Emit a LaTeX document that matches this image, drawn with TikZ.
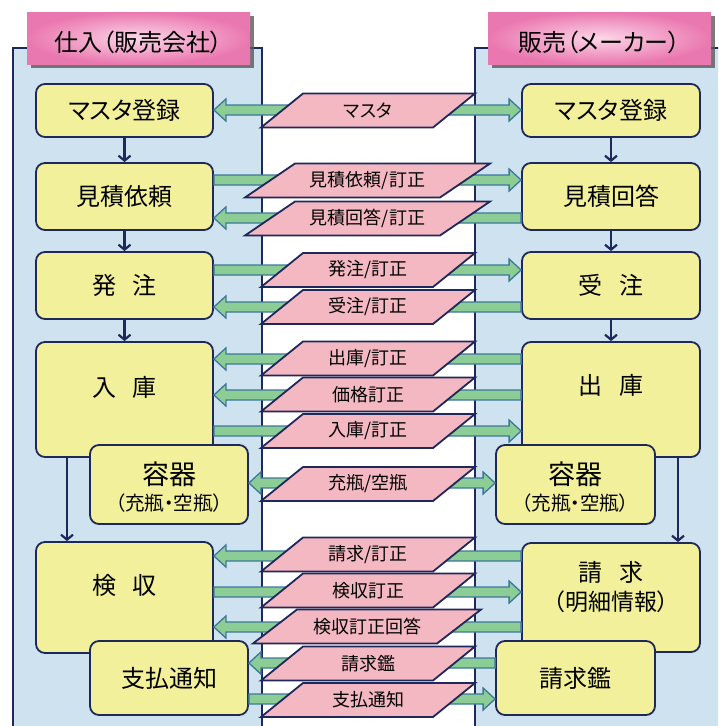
\documentclass[tikz,border=0pt]{standalone}
\usepackage{fontspec}
\setmainfont{Noto Sans CJK JP}[RawFeature={+palt}]
\usetikzlibrary{arrows.meta,calc,shadows}
\definecolor{navy}{RGB}{30,40,90}
\definecolor{panelblue}{RGB}{207,226,240}
\definecolor{nodeyel}{RGB}{243,240,155}
\definecolor{parapink}{RGB}{244,184,194}
\definecolor{hdrdark}{RGB}{234,120,176}
\definecolor{hdrlight}{RGB}{252,214,232}
\definecolor{grfill}{RGB}{140,205,150}
\definecolor{grline}{RGB}{60,120,155}
\newcommand\wgap{\hspace{17pt}}
\newcommand\garR[3]{%
  \filldraw[gar] let \p1=(#1.east |- 0,#3), \p2=(#2.west |- 0,#3) in
   (\x1,\y1+5pt) -- (\x2-12pt,\y1+5pt) -- (\x2-12pt,\y1+11pt) -- (\x2,\y1)
   -- (\x2-12pt,\y1-11pt) -- (\x2-12pt,\y1-5pt) -- (\x1,\y1-5pt) -- cycle;}
\newcommand\garL[3]{%
  \filldraw[gar] let \p1=(#1.west |- 0,#3), \p2=(#2.east |- 0,#3) in
   (\x1,\y1+5pt) -- (\x2+12pt,\y1+5pt) -- (\x2+12pt,\y1+11pt) -- (\x2,\y1)
   -- (\x2+12pt,\y1-11pt) -- (\x2+12pt,\y1-5pt) -- (\x1,\y1-5pt) -- cycle;}
\newcommand\garD[3]{%
  \filldraw[gar] let \p1=(#1.east |- 0,#3), \p2=(#2.west |- 0,#3) in
   (\x1,\y1) -- (\x1+12pt,\y1+11pt) -- (\x1+12pt,\y1+5pt) -- (\x2-12pt,\y1+5pt)
   -- (\x2-12pt,\y1+11pt) -- (\x2,\y1) -- (\x2-12pt,\y1-11pt) -- (\x2-12pt,\y1-5pt)
   -- (\x1+12pt,\y1-5pt) -- (\x1+12pt,\y1-11pt) -- cycle;}
\newcommand\para[6]{%
  \filldraw[pg] (#2-#4-#5,#3+17) -- (#2-#4+#5,#3-17) -- (#2+#4+#5,#3-17) -- (#2+#4-#5,#3+17) -- cycle;
  \node[ptext] (#1) at (#2,#3) {#6};}
\begin{document}
\begin{tikzpicture}[x=1pt,y=-1pt,
  box/.style={draw=navy, line width=1.8pt, fill=nodeyel, rounded corners=9pt, inner sep=0pt,
    font=\fontsize{24}{28}\selectfont},
  lbl/.style={inner sep=0pt, font=\fontsize{24}{28}\selectfont},
  sub/.style={inner sep=0pt, font=\fontsize{19.5}{22}\selectfont},
  big/.style={inner sep=0pt, font=\fontsize{27}{30}\selectfont},
  hdr/.style={inner sep=0pt, minimum width=223pt, minimum height=52pt,
    inner color=hdrlight, outer color=hdrdark,
    drop shadow={shadow xshift=4pt, shadow yshift=-4pt, fill=black!65, opacity=0.8}},
  hdrtext/.style={inner sep=0pt, font=\fontsize{24}{28}\selectfont},
  panel/.style={draw=navy, line width=2pt},
  darr/.style={draw=navy, line width=2.2pt, -{Straight Barb[length=5pt,width=12pt]}},
  gar/.style={fill=grfill, draw=grline, line width=1.3pt, line join=miter},
  pg/.style={fill=parapink, draw=navy, line width=1.8pt, line join=miter},
  ptext/.style={inner sep=0pt, font=\fontsize{18}{21}\selectfont}]
\clip (0,0) rectangle (718,726);
\fill[white] (0,0) rectangle (718,726);
% panels
\fill[panelblue] (13,48) rectangle (262,740);
\draw[panel] (13,740) -- (13,48) -- (262,48) -- (262,740);
\fill[panelblue] (475,48) rectangle (740,740);
\draw[panel] (475,740) -- (475,48) -- (740,48);
% headers
\node[hdr] (lhdr) at (138.5,38) {};
\node[hdrtext] (lhdrT) at (138.5,42) {仕入（販売会社）};
\node[hdr] (rhdr) at (599.5,38) {};
\node[hdrtext] (rhdrT) at (599.5,42) {販売（メーカー）};
% left boxes
\node[box, minimum width=177pt, minimum height=53pt] (lmas) at (124.5,110.5) {マスタ登録};
\node[box, minimum width=177pt, minimum height=67pt] (lmit) at (124.5,196.5) {見積依頼};
\node[box, minimum width=177pt, minimum height=67pt] (lhat) at (124.5,285.5) {発\wgap 注};
\node[box, minimum width=177pt, minimum height=115pt] (lnyu) at (124.5,399.5) {};
\node[lbl] (lnyuT) at (124.5,387) {入\wgap 庫};
\node[box, minimum width=158pt, minimum height=79pt] (lyou) at (169,484.5) {};
\node[big] (lyouT) at (169,474) {容器};
\node[sub] (lyouS) at (169,503) {（充瓶・空瓶）};
\node[box, minimum width=177pt, minimum height=111pt] (lken) at (124.5,597.5) {};
\node[lbl] (lkenT) at (124.5,585) {検\wgap 収};
\node[box, minimum width=158pt, minimum height=74pt] (lshi) at (169,678) {支払通知};
% right boxes
\node[box, minimum width=178pt, minimum height=53pt] (rmas) at (611,110.5) {マスタ登録};
\node[box, minimum width=178pt, minimum height=67pt] (rmit) at (611,196.5) {見積回答};
\node[box, minimum width=178pt, minimum height=67pt] (rjuc) at (611,285.5) {受\wgap 注};
\node[box, minimum width=178pt, minimum height=115pt] (rshu) at (611,399.5) {};
\node[lbl] (rshuT) at (611,385) {出\wgap 庫};
\node[box, minimum width=159pt, minimum height=79pt] (ryou) at (575.5,484.5) {};
\node[big] (ryouT) at (575.5,474) {容器};
\node[sub] (ryouS) at (575.5,503) {（充瓶・空瓶）};
\node[box, minimum width=178pt, minimum height=109pt] (rsei) at (611,597.5) {};
\node[lbl] (rseiT) at (611,572) {請\wgap 求};
\node[lbl, font=\fontsize{23}{26}\selectfont] (rseiS) at (611,602) {（明細情報）};
\node[box, minimum width=159pt, minimum height=74pt] (rkan) at (575.5,678) {請求鑑};
% vertical flow arrows
\draw[darr] (lmas.south) -- (lmit.north);
\draw[darr] (lmit.south) -- (lhat.north);
\draw[darr] (lhat.south) -- (lnyu.north);
\draw[darr] (lnyu.south -| 67,0) -- (lken.north -| 67,0);
\draw[darr] (rmas.south) -- (rmit.north);
\draw[darr] (rmit.south) -- (rjuc.north);
\draw[darr] (rjuc.south) -- (rshu.north);
\draw[darr] (rshu.south -| 678,0) -- (rsei.north -| 678,0);
% green exchange arrows
\garD{lmas}{rmas}{110}
\garR{lmit}{rmit}{180}
\garL{rmit}{lmit}{218}
\garR{lhat}{rjuc}{270}
\garL{rjuc}{lhat}{307}
\garL{rshu}{lnyu}{359}
\garL{rshu}{lnyu}{395}
\garR{lnyu}{rshu}{431}
\garD{lyou}{ryou}{483}
\garL{rsei}{lken}{556}
\garR{lken}{rsei}{592}
\garL{rsei}{lken}{627}
\garL{rkan}{lshi}{663}
\garR{lshi}{rkan}{699}
% data parallelograms
\para{p1}{368}{110.5}{86}{21}{マスタ}
\para{p2}{367.5}{180.5}{97.5}{25}{見積依頼/訂正}
\para{p3}{367.5}{218.5}{97.5}{25}{見積回答/訂正}
\para{p4}{368}{270}{86}{21}{発注/訂正}
\para{p5}{368}{307}{86}{21}{受注/訂正}
\para{p6}{368}{358.5}{86}{21}{出庫/訂正}
\para{p7}{368}{394.5}{86}{21}{価格訂正}
\para{p8}{368}{431}{86}{21}{入庫/訂正}
\para{p9}{368}{484}{86}{21}{充瓶/空瓶}
\para{p10}{368}{554.5}{86}{21}{請求/訂正}
\para{p11}{368}{590.5}{86}{21}{検収訂正}
\para{p12}{367}{626.5}{92}{22}{検収訂正回答}
\para{p13}{368}{663.5}{86}{21}{請求鑑}
\para{p14}{368}{700}{86}{21}{支払通知}
\end{tikzpicture}
\end{document}
